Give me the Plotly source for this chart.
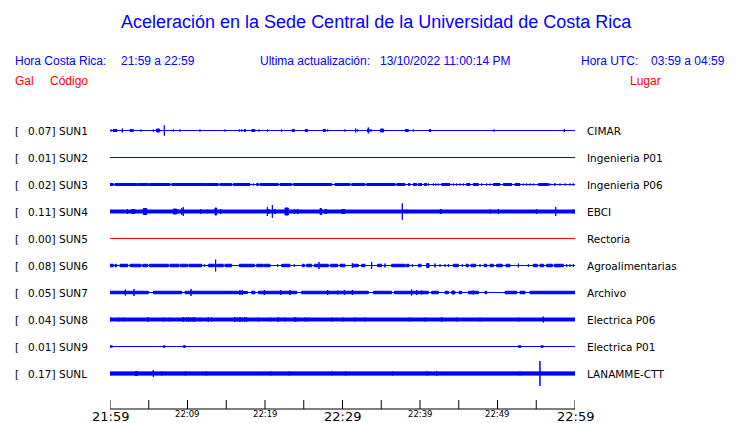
import plotly.graph_objects as go

# ---------------- data ----------------
TITLE = "Aceleración en la Sede Central de la Universidad de Costa Rica"
LOCAL_LABEL = "Hora Costa Rica:"
LOCAL_RANGE = "21:59 a 22:59"
UPDATE_LABEL = "Ultima actualización:"
UPDATE_TIME = "13/10/2022 11:00:14 PM"
UTC_LABEL = "Hora UTC:"
UTC_RANGE = "03:59 a 04:59"
HEAD_GAL = "Gal"
HEAD_CODE = "Código"
HEAD_PLACE = "Lugar"

STATIONS = ["SUN1", "SUN2", "SUN3", "SUN4", "SUN5", "SUN6", "SUN7", "SUN8", "SUN9", "SUNL"]
PEAK_GAL = [0.07, 0.01, 0.02, 0.11, 0.00, 0.08, 0.05, 0.04, 0.01, 0.17]
PLACES = ["CIMAR", "Ingenieria P01", "Ingenieria P06", "EBCI", "Rectoria",
          "Agroalimentarias", "Archivo", "Electrica P06", "Electrica P01", "LANAMME-CTT"]
ONLINE = [True, True, True, True, False, True, True, True, True, True]

# minutes after 21:59
TICK_MINUTES = [0, 5, 10, 15, 20, 25, 30, 35, 40, 45, 50, 55, 60]
TICK_LABELS = ["21:59", "", "22:09", "", "22:19", "", "22:29", "", "22:39", "", "22:49", "", "22:59"]
MAJOR_LABELS = ["21:59", "22:29", "22:59"]
T_END = 60

# bursts per station: (minute, amplitude Gal) or (start minute, end minute, amplitude Gal)
SUN1 = [(0.13, 0.014), (0.4, 0.9, 0.014), (1.59, 0.027), (2.6, 3.0, 0.014), (4.0, 0.014), (5.59, 0.014),
        (6.0, 6.4, 0.02), (7.01, 0.07), (8.17, 0.014), (9.03, 0.014), (9.33, 0.007), (10.02, 0.007),
        (10.88, 0.007), (11.61, 0.014), (12.26, 0.007), (12.69, 0.007), (13.2, 0.007), (13.85, 0.007),
        (14.84, 0.014), (15.27, 0.007), (16.69, 0.014), (16.99, 0.014), (17.3, 17.5, 0.014),
        (18.3, 18.7, 0.014), (19.23, 0.014), (19.57, 0.007), (20.34, 0.014), (22.15, 0.014),
        (22.58, 0.007), (23.5, 23.8, 0.014), (24.3, 0.007), (25.2, 25.5, 0.014), (26.67, 0.007),
        (27.5, 27.8, 0.014), (28.09, 0.014), (28.6, 0.007), (29.03, 0.007), (30.32, 0.014),
        (31.7, 0.027), (31.96, 0.014), (33.2, 33.5, 0.014), (33.33, 0.041), (33.68, 0.014),
        (34.9, 35.3, 0.02), (35.7, 0.007), (36.43, 0.007), (37.72, 0.007), (38.1, 38.5, 0.014),
        (39.14, 0.014), (39.57, 0.007), (41.2, 41.4, 0.014), (42.37, 0.007), (42.71, 0.007),
        (43.44, 0.007), (43.87, 0.007), (45.16, 0.007), (45.59, 0.007), (46.67, 0.007), (48.17, 0.007),
        (48.82, 0.007), (49.55, 0.014), (49.89, 0.007), (50.97, 0.007), (51.48, 0.007), (53.12, 0.007),
        (54.19, 0.007), (54.62, 0.007), (55.05, 0.007), (55.48, 0.007), (57.85, 0.007), (58.62, 0.02),
        (58.92, 0.007)]
SUN2 = [(6.24, 0.007)]
SUN3 = [(0.0, 0.43, 0.014), (0.65, 3.44, 0.014), (3.53, 4.95, 0.014), (5.08, 7.74, 0.014),
        (7.96, 12.26, 0.014), (12.34, 13.98, 0.014), (14.19, 15.7, 0.014), (15.91, 18.06, 0.014),
        (18.92, 19.14, 0.014), (19.35, 21.72, 0.014), (21.94, 23.44, 0.014), (23.66, 28.6, 0.014),
        (29.03, 30.97, 0.014), (31.18, 32.9, 0.014), (33.12, 36.77, 0.014), (36.99, 38.06, 0.014),
        (38.49, 38.71, 0.014), (39.14, 39.57, 0.014), (39.78, 40.22, 0.014), (40.56, 40.86, 0.014),
        (42.8, 43.87, 0.014), (46.02, 46.45, 0.014), (46.88, 47.53, 0.014), (49.46, 50.32, 0.014),
        (50.75, 51.83, 0.014), (52.26, 52.9, 0.014), (55.27, 56.56, 0.014),
        (18.49, 0.014), (41.08, 0.014), (41.72, 0.014), (42.02, 0.014), (42.37, 0.014), (44.3, 0.014),
        (44.73, 0.014), (45.16, 0.014), (45.59, 0.014), (47.96, 0.014), (48.6, 0.014), (49.03, 0.014),
        (53.33, 0.014), (53.76, 0.014), (54.19, 0.014), (54.62, 0.014), (56.77, 0.014), (57.42, 0.02),
        (58.06, 0.014), (58.71, 0.014), (59.35, 0.014), (59.78, 0.014)]
SUN4 = [(0.0, 60.0, 0.02), (2.24, 0.034), (2.8, 3.2, 0.027), (3.87, 0.02), (4.3, 4.73, 0.041),
        (6.37, 0.017), (8.17, 8.6, 0.034), (8.82, 0.027), (9.25, 0.048), (9.46, 0.061), (11.7, 0.034),
        (12.47, 12.69, 0.02), (13.55, 13.76, 0.048), (14.28, 0.034), (20.3, 0.061), (20.52, 0.034),
        (20.95, 0.088), (21.29, 0.034), (22.58, 23.01, 0.048), (23.78, 0.034), (24.22, 0.034),
        (25.89, 0.02), (27.1, 27.31, 0.041), (27.74, 27.96, 0.027), (29.9, 30.32, 0.027), (32.9, 0.02),
        (37.72, 0.11), (38.28, 0.027), (40.43, 0.02), (42.58, 42.8, 0.027), (43.87, 0.02), (44.95, 0.02),
        (46.02, 0.02), (47.1, 0.02), (49.03, 0.027), (50.11, 0.034), (51.48, 0.02), (53.12, 0.02),
        (55.05, 0.034), (57.51, 0.061), (59.35, 0.02), (59.78, 0.027)]
SUN5 = []
SUN6 = [(0.0, 0.43, 0.017), (0.65, 0.86, 0.017), (1.29, 2.28, 0.017), (2.58, 4.0, 0.017),
        (4.22, 4.86, 0.017), (5.08, 7.53, 0.017), (7.74, 8.9, 0.017), (9.08, 10.02, 0.017),
        (10.19, 11.83, 0.017), (12.17, 0.017), (12.69, 13.46, 0.017), (13.63, 0.08),
        (13.76, 14.62, 0.017), (14.84, 15.7, 0.017), (16.69, 18.62, 0.017), (18.92, 19.78, 0.017),
        (19.91, 20.65, 0.017), (21.63, 0.017), (22.15, 23.23, 0.017), (23.78, 0.017),
        (24.82, 25.08, 0.017), (25.38, 26.02, 0.017), (26.37, 26.88, 0.017), (26.97, 0.048),
        (27.1, 28.17, 0.017), (28.47, 29.38, 0.017), (29.68, 30.32, 0.017), (31.27, 0.034),
        (31.4, 32.04, 0.017), (32.47, 32.9, 0.017), (33.76, 0.048), (34.54, 35.05, 0.017),
        (35.48, 0.027), (36.34, 38.06, 0.017), (38.19, 38.58, 0.017), (39.01, 0.017),
        (39.78, 40.13, 0.017), (40.86, 41.16, 0.027), (41.94, 0.027), (42.58, 0.017), (43.23, 0.017),
        (43.66, 0.017), (44.3, 44.95, 0.017), (45.46, 0.017), (45.94, 46.24, 0.017),
        (46.58, 47.18, 0.017), (47.74, 0.017), (48.26, 48.6, 0.017), (49.03, 49.46, 0.017),
        (49.89, 50.62, 0.017), (51.1, 51.61, 0.017), (52.69, 0.027), (53.98, 0.017),
        (54.62, 55.14, 0.017), (55.48, 55.96, 0.017), (56.34, 57.08, 0.017), (57.33, 58.49, 0.017),
        (58.92, 0.017), (59.35, 0.017), (59.78, 0.017)]
SUN7 = [(0.0, 4.95, 0.017), (5.59, 9.25, 0.017), (9.68, 16.56, 0.017), (16.56, 17.76, 0.014),
        (18.28, 18.71, 0.017), (19.14, 24.09, 0.017), (24.73, 33.33, 0.017), (33.98, 36.34, 0.017),
        (36.69, 41.08, 0.017), (41.51, 42.37, 0.017), (43.23, 43.66, 0.017), (44.09, 44.52, 0.017),
        (45.03, 45.38, 0.017), (46.24, 47.53, 0.017), (48.39, 48.6, 0.017), (50.97, 52.47, 0.017),
        (52.9, 53.55, 0.017), (54.19, 60.0, 0.017),
        (1.98, 0.041), (3.1, 0.048), (10.45, 0.048), (16.77, 0.034), (17.07, 0.034), (19.91, 0.034),
        (22.02, 0.034), (23.23, 0.034), (28.09, 0.034), (29.38, 0.027), (30.24, 0.034), (31.27, 0.034),
        (38.92, 0.041), (39.57, 0.034), (40.22, 0.027), (44.3, 0.027), (46.88, 0.027)]
SUN8 = [(0.0, 60.0, 0.02), (0.0, 0.034), (1.08, 0.027), (1.72, 0.027), (4.95, 0.034), (6.88, 0.027),
        (7.74, 0.027), (9.46, 0.034), (9.81, 0.027), (10.11, 0.034), (10.45, 0.027), (10.75, 0.034),
        (10.97, 0.027), (11.61, 0.027), (12.69, 0.034), (13.12, 0.027), (16.13, 0.034), (16.47, 0.027),
        (16.77, 0.034), (17.07, 0.027), (17.42, 0.034), (17.63, 0.027), (19.14, 0.027), (20.65, 0.027),
        (21.72, 0.034), (22.58, 0.027), (23.87, 0.034), (24.22, 0.027), (25.16, 0.027), (25.59, 0.027),
        (28.6, 0.027), (30.11, 0.027), (31.61, 0.027), (32.9, 0.027), (38.71, 0.027), (40.65, 0.027),
        (42.8, 0.034), (44.73, 0.027), (47.74, 0.027), (52.69, 0.027), (55.91, 0.04)]
SUN9 = [(0.0, 0.22, 0.01), (0.3, 0.01), (2.49, 0.007), (6.24, 0.007), (6.88, 7.1, 0.01),
        (9.46, 9.76, 0.01), (11.18, 0.007), (11.7, 0.007), (12.17, 0.007), (12.6, 0.007),
        (16.04, 0.007), (16.82, 0.007), (20.3, 0.007), (25.51, 0.007), (26.24, 0.007), (26.45, 0.007),
        (28.39, 0.007), (30.41, 0.007), (33.25, 0.007), (34.41, 0.007), (36.56, 0.007), (37.12, 0.007),
        (40.73, 0.007), (43.31, 0.007), (47.83, 0.007), (52.69, 53.03, 0.01), (55.61, 55.91, 0.01)]
SUNL = [(0.0, 60.0, 0.022), (3.23, 3.53, 0.027), (5.59, 0.048), (6.67, 0.027), (9.76, 0.027),
        (12.43, 0.027), (20.73, 0.027), (23.14, 0.027), (28.6, 0.027), (30.41, 0.027), (36.43, 0.027),
        (40.95, 0.027), (42.15, 0.034), (52.9, 0.027), (55.48, 0.17)]
BURSTS = [SUN1, SUN2, SUN3, SUN4, SUN5, SUN6, SUN7, SUN8, SUN9, SUNL]

# ---------------- layout constants ----------------
W, H = 740, 423
PL, PR, PT, PB = 110, 575, 115, 409      # plot area in pixels
ROW0_PX, ROW_PX = 130.5, 27               # first row centre, row spacing
PX_PER_GAL = 73.5
TICK_PX = 9
ROW_GAL = ROW_PX / PX_PER_GAL
Y_TOP = (ROW0_PX - PT) / PX_PER_GAL
Y_BOT = -(PB - ROW0_PX) / PX_PER_GAL
BLUE, RED, BLACK = "#0000ff", "#ff0000", "#000000"


def pxx(x):
    return (x - PL) / (PR - PL)


def pxy(y):
    return (PB - y) / (PB - PT)


fig = go.Figure()
for i, (name, bursts) in enumerate(zip(STATIONS, BURSTS)):
    col = BLUE if ONLINE[i] else RED
    c = -i * ROW_GAL
    fig.add_trace(go.Scatter(x=[0, T_END], y=[c, c], mode="lines",
                             line=dict(color=col, width=1), hoverinfo="skip", showlegend=False))
    xs, ys = [], []
    for b in bursts:
        if len(b) == 2:
            t0 = t1 = b[0]
            a = b[1]
        else:
            t0, t1, a = b
        xs += [t0, t1, t1, t0, t0, None]
        ys += [c - a, c - a, c + a, c + a, c - a, None]
    if xs:
        fig.add_trace(go.Scatter(x=xs, y=ys, mode="lines", fill="toself", fillcolor=col,
                                 line=dict(color=col, width=1), hoverinfo="skip", showlegend=False))

shapes = []
for t in TICK_MINUTES:
    shapes.append(dict(type="line", xref="x", yref="paper", x0=t, x1=t, y0=0,
                       y1=TICK_PX / (PB - PT), line=dict(color=BLACK, width=1), layer="above"))
shapes.append(dict(type="line", xref="x", yref="paper", x0=0, x1=T_END, y0=0, y1=0,
                   line=dict(color=BLACK, width=1), layer="above"))

ann = []
NOPAD = dict(showarrow=False, borderpad=0, borderwidth=0)
LAB = dict(family="DejaVu Sans", size=10.5, color=BLACK)
for i, name in enumerate(STATIONS):
    c = -i * ROW_GAL
    ann.append(dict(x=pxx(15), y=c, xref="paper", yref="y", text="[", xanchor="left",
                    yanchor="middle", font=LAB, **NOPAD))
    ann.append(dict(x=pxx(54.5), y=c, xref="paper", yref="y", text=f"{PEAK_GAL[i]:.2f}]",
                    xanchor="right", yanchor="middle", font=LAB, **NOPAD))
    ann.append(dict(x=pxx(58.5), y=c, xref="paper", yref="y", text=name, xanchor="left",
                    yanchor="middle", font=LAB, **NOPAD))
    ann.append(dict(x=pxx(587), y=c, xref="paper", yref="y", text=PLACES[i], xanchor="left",
                    yanchor="middle", font=LAB, **NOPAD))

for t, lab in zip(TICK_MINUTES, TICK_LABELS):
    if not lab:
        continue
    big = lab in MAJOR_LABELS
    ann.append(dict(x=t, y=pxy(416 if big else 413.5), xref="x", yref="paper", text=lab,
                    xanchor="center", yanchor="middle",
                    font=dict(family="DejaVu Sans", size=13 if big else 8.5, color=BLACK), **NOPAD))

HEAD = dict(family="Liberation Sans", size=12, color=BLUE)
REDF = dict(family="Liberation Sans", size=12, color=RED)
for x, txt, f, y in [(15, LOCAL_LABEL, HEAD, 61), (121, LOCAL_RANGE, HEAD, 61),
                     (260, UPDATE_LABEL, HEAD, 61), (380, UPDATE_TIME, HEAD, 61),
                     (581, UTC_LABEL, HEAD, 61), (651, UTC_RANGE, HEAD, 61),
                     (15, HEAD_GAL, REDF, 81), (50, HEAD_CODE, REDF, 81), (630, HEAD_PLACE, REDF, 81)]:
    ann.append(dict(x=pxx(x), y=pxy(y), xref="paper", yref="paper", text=txt, xanchor="left",
                    yanchor="middle", font=f, **NOPAD))
ann.append(dict(x=pxx(376), y=pxy(22), xref="paper", yref="paper", text=TITLE, xanchor="center",
                yanchor="middle", font=dict(family="Liberation Sans", size=18, color=BLUE), **NOPAD))

fig.update_layout(
    width=W, height=H, margin=dict(l=PL, r=W - PR, t=PT, b=H - PB),
    paper_bgcolor="white", plot_bgcolor="white", annotations=ann, shapes=shapes,
    xaxis=dict(range=[0, T_END], showgrid=False, zeroline=False, showline=False,
               ticks="", showticklabels=False, fixedrange=True),
    yaxis=dict(range=[Y_BOT, Y_TOP], visible=False, fixedrange=True),
)
fig.write_html("out.html", config={"displayModeBar": False},
               post_script="document.body.style.margin='0';document.body.style.overflow='hidden';")
